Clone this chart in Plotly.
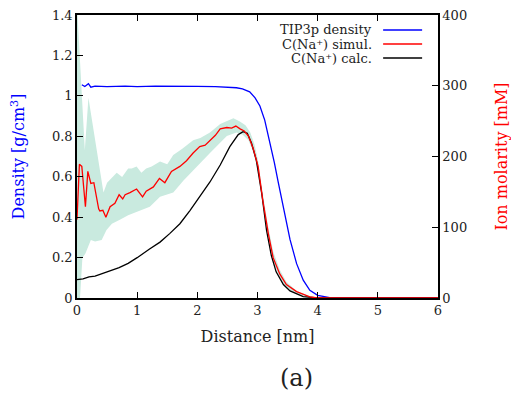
import plotly.graph_objects as go

# ---- data ----
# water density (left axis, g/cm3)
dens_x = [0.08, 0.13, 0.19, 0.23, 0.30, 0.50, 0.80, 1.00, 1.30, 1.60, 2.00, 2.30, 2.50, 2.65,
          2.75, 2.87, 2.96, 3.04, 3.12, 3.20, 3.28, 3.34, 3.43, 3.54, 3.65, 3.76, 3.87, 4.00,
          4.20, 4.50, 6.00]
dens_y = [1.055, 1.046, 1.060, 1.043, 1.048, 1.046, 1.048, 1.046, 1.048, 1.046, 1.047, 1.046,
          1.044, 1.040, 1.035, 1.020, 0.990, 0.950, 0.880, 0.780, 0.670, 0.580, 0.450, 0.290,
          0.170, 0.088, 0.038, 0.013, 0.002, 0.0, 0.0]

# simulated Na+ concentration (right axis, mM)
sim_x = [0.00, 0.04, 0.08, 0.14, 0.18, 0.23, 0.28, 0.36, 0.38, 0.43, 0.48, 0.55, 0.63, 0.70,
         0.76, 0.80, 0.88, 0.99, 1.09, 1.15, 1.27, 1.37, 1.46, 1.57, 1.71, 1.82, 1.93, 2.04,
         2.13, 2.21, 2.30, 2.38, 2.49, 2.57, 2.64, 2.71, 2.78, 2.85, 2.93, 3.01, 3.09, 3.18,
         3.26, 3.37, 3.48, 3.65, 3.87, 4.00, 6.00]
sim_y = [111, 189, 186, 129, 179, 162, 163, 126, 123, 124, 114, 129, 134, 146,
         140, 146, 149, 154, 143, 151, 157, 169, 163, 179, 186, 194, 205, 214,
         216, 223, 230, 239, 241, 240, 243, 239, 236, 229, 211, 186, 137, 91,
         57, 34, 19, 9, 1.5, 0, 0]

# uncertainty band of simulated concentration (mM)
band_up_x = [0.00, 0.13, 0.19, 0.33, 0.44, 0.50, 0.60, 0.66, 0.75, 0.85, 0.91, 0.99, 1.07,
             1.15, 1.24, 1.38, 1.50, 1.60, 1.75, 1.93, 2.05, 2.21, 2.38, 2.50, 2.60, 2.70,
             2.80, 2.88, 2.95, 3.01, 3.09, 3.18, 3.26, 3.37, 3.48, 3.65, 3.87, 4.00, 6.00]
band_up_y = [414, 209, 283, 209, 149, 163, 171, 177, 171, 183, 183, 186, 177,
             183, 186, 193, 189, 202, 211, 223, 226, 234, 246, 251, 254, 250,
             244, 234, 217, 194, 146, 100, 66, 40, 23, 10, 2, 0.6, 0]
band_lo_x = [0.00, 0.03, 0.05, 0.09, 0.14, 0.23, 0.30, 0.41, 0.49, 0.58, 0.72, 0.85, 1.05,
             1.21, 1.38, 1.60, 1.77, 1.93, 2.21, 2.49, 2.65, 2.75, 2.85, 2.93, 3.01, 3.09,
             3.18, 3.26, 3.37, 3.48, 3.65, 3.87, 4.00, 6.00]
band_lo_y = [0, 0, 0, 57, 63, 82, 80, 82, 96, 105, 111, 117, 124,
             129, 143, 149, 166, 181, 205, 229, 234, 231, 223, 206, 180, 131,
             86, 51, 29, 14, 6, 0.6, 0, 0]

# calculated Na+ concentration (mM)
calc_x = [0.00, 0.10, 0.20, 0.30, 0.50, 0.70, 0.85, 1.00, 1.20, 1.38, 1.54, 1.71, 1.88, 2.07,
          2.21, 2.38, 2.54, 2.68, 2.76, 2.83, 2.90, 2.98, 3.07, 3.15, 3.23, 3.31, 3.43, 3.54,
          3.76, 4.00, 6.00]
calc_y = [26, 27, 30, 31, 37, 43, 49, 57, 69, 79, 91, 105, 124, 146,
          164, 188, 214, 231, 235, 233, 219, 195, 148, 96, 60, 37, 19, 10,
          2, 0, 0]

legend_names = ["TIP3p density", "C(Na⁺) simul.", "C(Na⁺) calc."]
legend_colors = ["#0000ff", "#ff0000", "#000000"]

FONT = "DejaVu Serif"

fig = go.Figure()

# band as a closed polygon
fig.add_trace(go.Scatter(
    x=band_up_x + band_lo_x[::-1], y=band_up_y + band_lo_y[::-1],
    yaxis="y2", mode="lines", fill="toself", fillcolor="#c9eadf",
    line=dict(width=0), hoverinfo="skip", showlegend=False))

fig.add_trace(go.Scatter(x=dens_x, y=dens_y, mode="lines",
                         line=dict(color=legend_colors[0], width=1.3), showlegend=False))
fig.add_trace(go.Scatter(x=calc_x, y=calc_y, yaxis="y2", mode="lines",
                         line=dict(color=legend_colors[2], width=1.3), showlegend=False))
fig.add_trace(go.Scatter(x=sim_x, y=sim_y, yaxis="y2", mode="lines",
                         line=dict(color=legend_colors[1], width=1.3), showlegend=False))

# custom legend (text right, line sample on right side)
for i, (name, col) in enumerate(zip(legend_names, legend_colors)):
    ypos = 0.947 - i * 0.0495
    fig.add_annotation(x=0.823, y=ypos, xref="paper", yref="paper", text=name,
                       showarrow=False, xanchor="right", yanchor="middle",
                       font=dict(family=FONT, size=13, color="#222"))
    fig.add_shape(type="line", xref="paper", yref="paper",
                  x0=0.848, x1=0.956, y0=ypos, y1=ypos,
                  line=dict(color=col, width=1.3))

fig.add_annotation(x=0.607, y=-0.283, xref="paper", yref="paper", text="(a)",
                   showarrow=False, xanchor="center", yanchor="middle",
                   font=dict(family=FONT, size=24, color="#222"))

axis_common = dict(showgrid=False, zeroline=False, showline=True, linecolor="black",
                   linewidth=1.5, ticks="inside", ticklen=6, tickwidth=1.2, tickcolor="black",
                   automargin=False,
                   tickfont=dict(family=FONT, size=13, color="#222"))

fig.update_layout(
    width=511, height=394,
    margin=dict(l=77, r=73, t=15, b=96),
    paper_bgcolor="white", plot_bgcolor="white",
    xaxis=dict(range=[0, 6], dtick=1, mirror="ticks",
               title=dict(text="Distance [nm]", font=dict(family=FONT, size=16, color="#222"),
                          standoff=13),
               **axis_common),
    yaxis=dict(range=[0, 1.4], dtick=0.2,
               title=dict(text="Density [g/cm<sup>3</sup>]",
                          font=dict(family=FONT, size=16, color="#0000ff"), standoff=23),
               **axis_common),
    yaxis2=dict(range=[0, 400], dtick=100, overlaying="y", side="right",
                title=dict(text="Ion molarity [mM]",
                           font=dict(family=FONT, size=16, color="#ff0000"), standoff=30),
                **axis_common),
)

fig.write_html("out.html")
